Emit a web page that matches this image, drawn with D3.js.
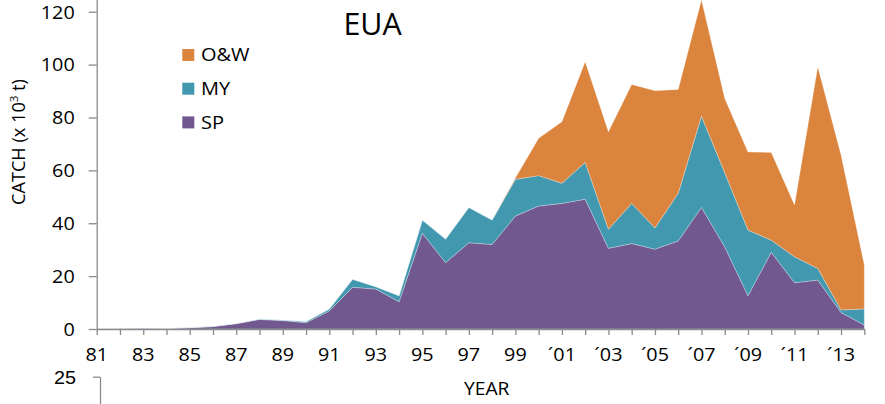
<!DOCTYPE html>
<html><head><meta charset="utf-8">
<script src="https://cdn.jsdelivr.net/npm/d3@7"></script>
<style>
html,body{margin:0;padding:0;background:#fff;}
svg{display:block;font-family:"Open Sans",sans-serif;}
</style></head>
<body><svg id="c" width="885" height="404"></svg>
<script>
const years = d3.range(1981, 2015);
const SP  = [0.1,0.2,0.3,0.2,0.5,0.9,2.0,3.6,3.2,2.4,6.8,15.8,15.1,10.3,36.2,25.1,32.6,32.0,42.7,46.5,47.5,49.1,30.5,32.3,30.2,33.3,46.0,31.0,12.6,29.0,17.5,18.5,6.2,1.5];
const MY  = [0.05,0.05,0.05,0.05,0.05,0.1,0.1,0.2,0.2,0.4,0.8,3.0,0.9,2.3,5.0,8.9,13.4,9.2,13.9,11.5,7.6,13.9,7.2,15.2,8.0,18.0,34.5,28.1,24.8,4.6,9.8,4.4,1.0,6.1];
const OW  = [0,0,0,0,0,0,0,0,0,0,0,0,0,0,0,0,0,0,0.5,14.1,23.3,38.1,36.9,45.0,51.9,39.3,44.0,28.1,29.5,33.2,19.6,76.3,58.6,16.6];
const seriesNames = ["SP","MY","O&W"];
const legendOrder = ["O&W","MY","SP"];
const colors = {"SP":"#71588F","MY":"#4198AF","O&W":"#DB843D"};
const yTicks = [0,20,40,60,80,100,120];
const xLabelYears = d3.range(1981, 2014, 2);
const xLabels = ["81","83","85","87","89","91","93","95","97","99","´01","´03","´05","´07","´09","´11","´13"];
const title = "EUA";
const xTitle = "YEAR";
const nextChartTicks = [25];

const svg = d3.select("#c");
const stretch = (sel, k) => sel.each(function(){
  const w = this.getComputedTextLength();
  d3.select(this).attr("textLength", w*k).attr("lengthAdjust","spacingAndGlyphs");
});

const x = d3.scaleLinear().domain([1981, 2014]).range([96.7, 864.3]);
const y = d3.scaleLinear().domain([0, 140]).range([329, 329 - 7*52.88]);

const table = years.map((yr,i)=>({year:yr, "SP":SP[i], "MY":MY[i], "O&W":OW[i]}));
const stack = d3.stack().keys(seriesNames)(table);
const area = d3.area().x(d=>x(d.data.year)).y0(d=>y(d[0])).y1(d=>y(d[1]));

svg.append("g").selectAll("path").data(stack).join("path")
  .attr("d", area).attr("fill", d=>colors[d.key])
  .attr("stroke","#ffffff").attr("stroke-opacity",0.45).attr("stroke-width",0.6);

const axisColor = "#8a8a8a";
// Y axis
const ya = svg.append("g").attr("transform","translate(96.7,0)")
  .call(d3.axisLeft(y).tickValues(yTicks).tickSize(8).tickSizeOuter(0).tickPadding(14));
ya.select(".domain").attr("stroke",axisColor).attr("stroke-width",1.3);
ya.selectAll(".tick line").attr("stroke",axisColor).attr("stroke-width",1.3);
ya.selectAll(".tick text").attr("font-size",17.5).attr("fill","#000").attr("font-family","Open Sans").attr("dy","0.36em")
  .call(stretch,1.13);

// X axis
const xa = svg.append("g").attr("transform","translate(0,329)")
  .call(d3.axisBottom(x).tickValues(years).tickSize(6).tickSizeOuter(0).tickFormat(""));
xa.select(".domain").attr("stroke",axisColor).attr("stroke-width",1.3);
xa.selectAll(".tick line").attr("stroke",axisColor).attr("stroke-width",1.3);
svg.append("g").selectAll("text").data(xLabelYears).join("text")
  .attr("x", d=>x(d)).attr("y", 361).attr("text-anchor","middle")
  .attr("font-size",17.5).attr("fill","#000")
  .text((d,i)=>xLabels[i]).call(stretch,1.13);

// Title
svg.append("text").attr("x",372.5).attr("y",35).attr("text-anchor","middle")
  .attr("font-size",31).attr("fill","#000").text(title).call(stretch,0.98);

// X title
svg.append("text").attr("x",486.7).attr("y",395).attr("text-anchor","middle")
  .attr("font-size",17.5).attr("fill","#000").text(xTitle).call(stretch,1.1);

// Y title
const ytg = svg.append("g").attr("transform","translate(25,142) rotate(-90)");
const yt = ytg.append("text").attr("text-anchor","middle").attr("font-size",18).attr("fill","#000");
yt.append("tspan").text("CATCH (x 10");
yt.append("tspan").attr("font-size",11.5).attr("dy",-7).text("3");
yt.append("tspan").attr("dy",7).text(" t)");
{
  const bb = yt.node().getBBox();
  const k = 126 / bb.width;
  yt.attr("transform", `scale(${k},1)`);
}

// Legend
const lg = svg.append("g").selectAll("g").data(legendOrder).join("g")
  .attr("transform",(d,i)=>`translate(182.3,${49 + i*33.7})`);
lg.append("rect").attr("width",12).attr("height",12).attr("fill",d=>colors[d]);
lg.append("text").attr("x",18.7).attr("y",12.3).attr("font-size",18.5).attr("fill","#000")
  .text(d=>d).call(stretch,1.08);

// Fragment of the next chart's axis
const y2 = d3.scaleLinear().domain([0,25]).range([520, 376.7]);
const ya2 = svg.append("g").attr("transform","translate(100,0)")
  .call(d3.axisLeft(y2).tickValues(nextChartTicks).tickSize(7).tickSizeOuter(0).tickPadding(17));
ya2.select(".domain").attr("stroke",axisColor).attr("stroke-width",1.3);
ya2.selectAll(".tick line").attr("stroke",axisColor).attr("stroke-width",1.3);
ya2.selectAll(".tick text").attr("font-size",17.5).attr("fill","#000").attr("dy","0.36em").call(stretch,1.13);
</script></body></html>
